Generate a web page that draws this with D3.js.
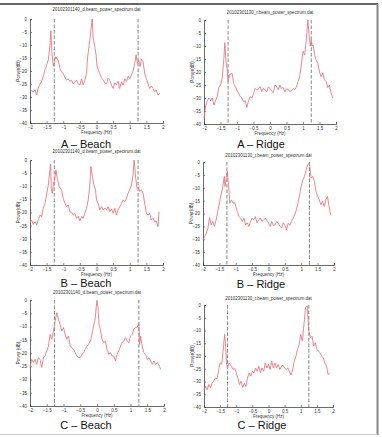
<!DOCTYPE html>
<html>
<head>
<meta charset="utf-8">
<script src="https://cdn.jsdelivr.net/npm/d3@7"></script>
<style>
  body { margin: 0; background: #fff; }
  svg { display: block; font-family: "Liberation Sans", Arial, sans-serif; }
</style>
</head>
<body>
<div id="chart"></div>
<script>
// tick labels
const xTicks = [-2, -1.5, -1, -0.5, 0, 0.5, 1, 1.5, 2];
const yTicks = [0, -5, -10, -15, -20, -25, -30, -35, -40];
const markerFreqs = [-1.27, 1.25];

const captions = ["A – Beach", "A – Ridge", "B – Beach", "B – Ridge", "C – Beach", "C – Ridge"];
const titles = [
    "20102301140_d.beam_power_spectrum.dat",
    "20102301130_r.beam_power_spectrum.dat",
    "20102301140_d.beam_power_spectrum.dat",
    "20102301130_r.beam_power_spectrum.dat",
    "20102301140_d.beam_power_spectrum.dat",
    "20102301130_r.beam_power_spectrum.dat"
];
const yLabels = ["Power(dB)", "Power(dB)", "Power(dB)", "Power(dB)", "Power (dB)", "Power(dB)"];

// [frequency (Hz), power (dB)]
const beachA = [[-2,-27],[-1.95,-27.6],[-1.9,-28],[-1.85,-27.2],[-1.8,-29.3],[-1.75,-26.5],[-1.7,-25],[-1.65,-24],[-1.6,-22],
    [-1.55,-19.5],[-1.5,-17.7],[-1.45,-15.8],[-1.4,-10],[-1.37,-4.5],[-1.34,-13],[-1.3,-18],[-1.27,-16.5],[-1.22,-14.5],
    [-1.15,-16],[-1.1,-19],[-1.05,-20.5],[-1,-21],[-0.95,-22.5],[-0.9,-23.5],[-0.85,-23],[-0.8,-24],[-0.75,-23.5],[-0.7,-25],
    [-0.65,-24.2],[-0.6,-23.5],[-0.55,-25],[-0.5,-25.4],[-0.45,-23],[-0.4,-25.4],[-0.35,-23.5],[-0.3,-21],[-0.27,-15],
    [-0.2,-8],[-0.13,0],[-0.1,-7],[-0.05,-10.6],[-0.01,-14],[0.01,-17.7],[0.05,-19.6],[0.1,-21],[0.15,-22.6],[0.2,-23.5],
    [0.25,-24.5],[0.3,-25],[0.35,-22.8],[0.4,-23.5],[0.45,-25.5],[0.5,-26.7],[0.55,-24.6],[0.6,-25.4],[0.65,-24],[0.7,-26.7],
    [0.75,-24.2],[0.8,-25.4],[0.85,-23],[0.9,-24],[0.95,-22],[1,-23],[1.05,-21.5],[1.1,-20],[1.15,-17],[1.19,-13.8],
    [1.23,-17],[1.27,-16],[1.31,-18.3],[1.35,-15.5],[1.4,-16.4],[1.45,-21],[1.5,-23],[1.55,-25],[1.6,-26.7],[1.65,-25.8],
    [1.7,-26.7],[1.75,-28],[1.8,-27.3],[1.85,-29.2],[1.9,-28.5]];

const ridgeA = [[-2,-37.8],[-1.95,-33],[-1.9,-31],[-1.85,-30],[-1.8,-31],[-1.75,-30],[-1.7,-32.7],[-1.65,-31],[-1.6,-29.5],
    [-1.55,-26],[-1.5,-25],[-1.45,-22.4],[-1.4,-15.4],[-1.37,-8.7],[-1.33,-16.7],[-1.3,-18.6],[-1.27,-23.7],[-1.22,-21],
    [-1.15,-20.5],[-1.1,-24.4],[-1,-27],[-0.9,-29.5],[-0.85,-30],[-0.8,-31.4],[-0.75,-31],[-0.7,-33.6],[-0.65,-31],
    [-0.6,-29.5],[-0.55,-30],[-0.5,-28.2],[-0.45,-26.3],[-0.4,-27],[-0.35,-26.5],[-0.3,-25.6],[-0.25,-27.6],[-0.2,-26.3],
    [-0.15,-26.8],[-0.1,-27.6],[-0.05,-25.8],[0,-26.3],[0.05,-27.4],[0.1,-28],[0.15,-25],[0.2,-25.6],[0.25,-26.8],[0.3,-25],
    [0.35,-26.3],[0.4,-26],[0.45,-27.6],[0.5,-26.5],[0.55,-26.7],[0.6,-27.5],[0.65,-27.2],[0.7,-26.4],[0.75,-26.7],
    [0.8,-25.8],[0.85,-23.7],[0.9,-21.8],[0.95,-17.3],[1,-12],[1.05,-13.5],[1.1,-7.7],[1.15,0],[1.18,-5],[1.22,-10],
    [1.25,-7.7],[1.28,-10],[1.31,-9.6],[1.35,-13.5],[1.4,-15.4],[1.45,-16.7],[1.5,-19.9],[1.55,-21.8],[1.6,-20.3],
    [1.65,-23],[1.7,-23.7],[1.75,-26],[1.8,-25],[1.85,-28],[1.9,-30]];

const beachB = [[-2,-23.5],[-1.95,-22.9],[-1.9,-24.5],[-1.85,-23.5],[-1.8,-24.8],[-1.75,-22.9],[-1.7,-21],[-1.65,-21.6],
    [-1.6,-18.4],[-1.55,-16.5],[-1.5,-13.3],[-1.45,-9.5],[-1.38,-1.5],[-1.36,-10.8],[-1.33,-12.7],[-1.3,-9.5],[-1.26,-7.6],
    [-1.22,-3.8],[-1.18,-7],[-1.12,-10.2],[-1.05,-11.4],[-1,-14.6],[-0.95,-16.5],[-0.9,-17.8],[-0.85,-17.1],[-0.8,-19.7],
    [-0.75,-19.9],[-0.7,-21],[-0.65,-20.4],[-0.6,-22.2],[-0.55,-21.4],[-0.5,-23.2],[-0.45,-21.6],[-0.4,-22.2],[-0.35,-20.3],
    [-0.3,-18.4],[-0.25,-15.2],[-0.2,-9.5],[-0.17,-2.5],[-0.12,-6.3],[-0.08,-9.5],[-0.03,-11.4],[0,-15.2],[0.05,-16.5],
    [0.1,-19],[0.15,-17.8],[0.2,-19],[0.25,-18.3],[0.3,-19],[0.35,-17.8],[0.4,-19.7],[0.45,-18.6],[0.5,-20.3],[0.55,-18.4],
    [0.6,-21],[0.65,-19],[0.7,-17.8],[0.75,-16.5],[0.8,-15.2],[0.85,-15.9],[0.9,-14.6],[0.95,-12.7],[1,-11.4],[1.05,-9.5],
    [1.1,-5.7],[1.13,0],[1.18,-7],[1.22,-10.8],[1.26,-10.2],[1.3,-12],[1.35,-11.4],[1.4,-12.7],[1.45,-16.5],[1.5,-20.3],
    [1.55,-21],[1.6,-20.3],[1.65,-22.9],[1.7,-22.2],[1.75,-23.5],[1.8,-23.2],[1.85,-25.4],[1.88,-19.7]];

const ridgeB = [[-2,-30.3],[-1.95,-29],[-1.9,-27.7],[-1.85,-25.7],[-1.8,-21.6],[-1.75,-24.4],[-1.7,-23.1],[-1.65,-25],
    [-1.6,-22.5],[-1.55,-19.2],[-1.5,-16],[-1.45,-12.7],[-1.4,-10.1],[-1.35,-5.6],[-1.33,-9.5],[-1.26,-3.5],[-1.22,-8.8],
    [-1.18,-16],[-1.13,-14.7],[-1.08,-16],[-1.03,-15.8],[-1,-17.3],[-0.95,-19.2],[-0.9,-21.2],[-0.85,-21.9],[-0.8,-23.1],
    [-0.75,-21.8],[-0.7,-24.4],[-0.65,-23.6],[-0.6,-25],[-0.55,-23.1],[-0.5,-21.8],[-0.45,-22.5],[-0.4,-21.2],[-0.35,-23.6],
    [-0.3,-22.5],[-0.25,-21.7],[-0.2,-23.1],[-0.15,-22.6],[-0.1,-21.8],[-0.05,-22.6],[0,-23.8],[0.05,-25],[0.1,-23.1],
    [0.15,-24.6],[0.2,-24.4],[0.25,-23.1],[0.3,-23.8],[0.35,-24.9],[0.4,-25.7],[0.45,-23.6],[0.5,-24.4],[0.55,-26.4],
    [0.6,-23.8],[0.65,-24.6],[0.7,-23.1],[0.75,-21.8],[0.8,-20.5],[0.85,-18.6],[0.9,-16],[0.95,-12.7],[1,-9.5],[1.05,-6.9],
    [1.1,-5.6],[1.15,-3],[1.2,-1],[1.25,-0.4],[1.3,-6.2],[1.35,-5.6],[1.4,-7.5],[1.45,-11.4],[1.5,-13.4],[1.55,-14.7],
    [1.6,-16.6],[1.65,-15.3],[1.7,-17.3],[1.75,-14.7],[1.8,-13.4],[1.85,-17.3],[1.9,-20.5]];

const beachC = [[-2,-25.5],[-1.95,-22.4],[-1.9,-23.6],[-1.85,-22.4],[-1.8,-24.3],[-1.75,-21.8],[-1.7,-22.4],[-1.65,-25.5],
    [-1.6,-21.8],[-1.55,-21.1],[-1.5,-19.2],[-1.45,-17.4],[-1.4,-13],[-1.35,-14.8],[-1.3,-11.7],[-1.25,-7.9],[-1.2,-4.8],
    [-1.15,-7.3],[-1.1,-9.2],[-1.05,-11.7],[-1,-10.4],[-0.95,-13],[-0.9,-14.8],[-0.85,-13.6],[-0.8,-17.4],[-0.75,-18],
    [-0.7,-18.6],[-0.65,-19.9],[-0.6,-21.1],[-0.55,-21.8],[-0.5,-21.8],[-0.45,-20.5],[-0.4,-19.9],[-0.35,-18.6],
    [-0.3,-17.4],[-0.25,-16.7],[-0.2,-15.5],[-0.15,-13],[-0.1,-9.8],[-0.05,-6.7],[-0.02,-2.3],[0,-0.1],[0.03,-2.9],
    [0.06,-9.2],[0.1,-11],[0.15,-14.8],[0.2,-16.1],[0.25,-15.5],[0.3,-18.6],[0.35,-20.5],[0.4,-19.9],[0.45,-21.1],
    [0.5,-21.1],[0.55,-23],[0.6,-20.5],[0.65,-19.2],[0.7,-17.4],[0.75,-16.1],[0.8,-15.5],[0.85,-14.2],[0.9,-15.5],
    [0.95,-16.1],[1,-13.6],[1.05,-13],[1.1,-11],[1.15,-10.4],[1.2,-10.2],[1.25,-9],[1.27,-16.7],[1.3,-13.6],[1.35,-17.4],
    [1.4,-19.9],[1.45,-20.5],[1.5,-22.4],[1.55,-21.8],[1.6,-23],[1.65,-24.3],[1.7,-23],[1.75,-24.3],[1.8,-23.6],
    [1.85,-24.5],[1.9,-26.2]];

const ridgeC = [[-2,-33.2],[-1.95,-31.9],[-1.9,-33.2],[-1.85,-31.2],[-1.8,-32.5],[-1.75,-30.6],[-1.7,-29.9],[-1.65,-28.6],
    [-1.6,-28.9],[-1.55,-26],[-1.5,-22.7],[-1.45,-23.3],[-1.4,-16.8],[-1.36,-11.5],[-1.33,-16.1],[-1.3,-23.3],[-1.27,-24.7],
    [-1.22,-22.7],[-1.15,-24],[-1.1,-25.3],[-1.05,-24.7],[-1,-26.6],[-0.95,-28.6],[-0.9,-31.2],[-0.85,-29.9],[-0.8,-32.3],
    [-0.75,-30.6],[-0.7,-31.9],[-0.65,-28.6],[-0.6,-26.6],[-0.55,-27.9],[-0.5,-26],[-0.45,-26.6],[-0.4,-24.7],[-0.35,-26],
    [-0.3,-24],[-0.25,-26.6],[-0.2,-24.7],[-0.15,-26],[-0.1,-22.7],[-0.05,-24.7],[0,-23.3],[0.05,-25.3],[0.1,-22],
    [0.15,-24.7],[0.2,-22.7],[0.25,-24.7],[0.3,-23.3],[0.35,-25.3],[0.4,-24],[0.45,-23.6],[0.5,-24.7],[0.55,-25.3],
    [0.6,-24.7],[0.65,-26],[0.7,-27.5],[0.75,-25.3],[0.8,-22],[0.85,-20.1],[0.9,-17.4],[0.95,-15.5],[1,-11.5],[1.05,-14.2],
    [1.1,-7.6],[1.15,-1],[1.2,-0.4],[1.25,-10.2],[1.3,-12.9],[1.35,-12.2],[1.4,-16.1],[1.45,-14.8],[1.5,-17.4],[1.55,-18.1],
    [1.6,-18.8],[1.65,-20.1],[1.7,-20.7],[1.75,-22.7],[1.8,-24],[1.85,-27.3],[1.9,-26.6]];

const seriesList = [beachA, ridgeA, beachB, ridgeB, beachC, ridgeC];

// plot boxes (left, right, top, bottom) and caption positions
const panels = [
    { x0: 30, x1: 163, y0: 19, y1: 123, titleY: 11, capX: 86, capY: 148 },
    { x0: 204, x1: 336, y0: 20, y1: 124, titleY: 14, capX: 261, capY: 148 },
    { x0: 30, x1: 163, y0: 160, y1: 265, titleY: 153, capX: 86, capY: 287 },
    { x0: 203, x1: 334, y0: 162, y1: 265, titleY: 157, capX: 261, capY: 288 },
    { x0: 30, x1: 164, y0: 300, y1: 406, titleY: 294, capX: 86, capY: 429 },
    { x0: 204, x1: 333, y0: 305, y1: 407, titleY: 300, capX: 262, capY: 429 }
];

const width = 382, height = 437;
const svg = d3.select('#chart').append('svg')
    .attr('width', width)
    .attr('height', height);

// outer frame
svg.append('line').attr('x1', 0).attr('y1', 4).attr('x2', 378).attr('y2', 4)
    .attr('stroke', '#333').attr('stroke-width', 1.5);
svg.append('line').attr('x1', 377.5).attr('y1', 4).attr('x2', 377.5).attr('y2', 435)
    .attr('stroke', '#888').attr('stroke-width', 2);
svg.append('line').attr('x1', 0).attr('y1', 434.5).attr('x2', 377).attr('y2', 434.5)
    .attr('stroke', '#ccc').attr('stroke-width', 1);

panels.forEach(function(p, i) {
    const x = d3.scaleLinear().domain([-2, 2]).range([p.x0, p.x1]);
    const y = d3.scaleLinear().domain([-40, 0]).range([p.y1, p.y0]);
    const g = svg.append('g');

    const xAxis = g.append('g')
        .attr('transform', `translate(0, ${p.y1})`)
        .call(d3.axisBottom(x).tickValues(xTicks).tickSize(-2).tickPadding(3).tickFormat(d3.format('')));
    const yAxis = g.append('g')
        .attr('transform', `translate(${p.x0}, 0)`)
        .call(d3.axisLeft(y).tickValues(yTicks).tickSize(-2).tickPadding(3).tickFormat(d3.format('')));

    [xAxis, yAxis].forEach(function(a) {
        a.select('.domain').attr('stroke', '#444').attr('stroke-width', 0.8);
        a.selectAll('.tick line').attr('stroke', '#444').attr('stroke-width', 0.6);
        a.selectAll('.tick text').attr('font-size', 4.5).attr('fill', '#333')
            .attr('font-family', '"Liberation Sans", Arial, sans-serif');
    });

    // dashed marker lines
    markerFreqs.forEach(function(f) {
        g.append('line')
            .attr('x1', x(f)).attr('x2', x(f))
            .attr('y1', p.y0).attr('y2', p.y1)
            .attr('stroke', '#777')
            .attr('stroke-width', 0.9)
            .attr('stroke-dasharray', '3.5,2');
    });

    const line = d3.line()
        .x(d => x(d[0]))
        .y(d => y(d[1]));

    g.append('path')
        .datum(seriesList[i])
        .attr('d', line)
        .attr('fill', 'none')
        .attr('stroke', '#e8707c')
        .attr('stroke-width', 0.85);

    g.append('text')
        .attr('x', (p.x0 + p.x1) / 2)
        .attr('y', p.titleY)
        .attr('text-anchor', 'middle')
        .attr('font-size', 4.5)
        .attr('fill', '#333')
        .text(titles[i]);

    g.append('text')
        .attr('x', (p.x0 + p.x1) / 2)
        .attr('y', p.y1 + 11)
        .attr('text-anchor', 'middle')
        .attr('font-size', 4.5)
        .attr('fill', '#333')
        .text('Frequency (Hz)');

    g.append('text')
        .attr('transform', `translate(${p.x0 - 10}, ${(p.y0 + p.y1) / 2}) rotate(-90)`)
        .attr('text-anchor', 'middle')
        .attr('font-size', 4.5)
        .attr('fill', '#333')
        .text(yLabels[i]);

    g.append('text')
        .attr('x', p.capX)
        .attr('y', p.capY)
        .attr('text-anchor', 'middle')
        .attr('font-size', 11)
        .attr('fill', '#111')
        .text(captions[i]);
});
</script>
</body>
</html>
